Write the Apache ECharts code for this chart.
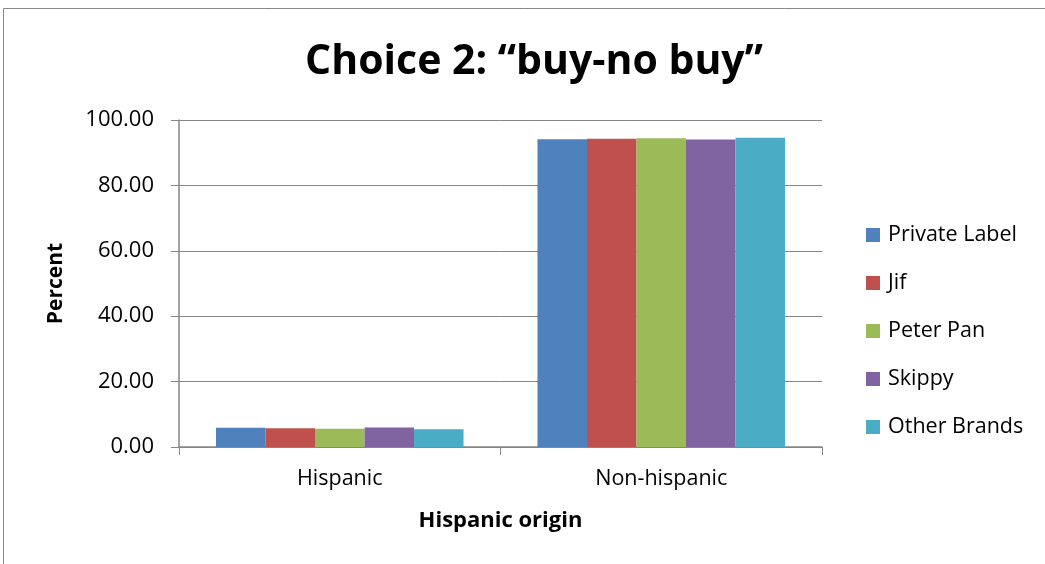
<!DOCTYPE html>
<html><head><meta charset="utf-8">
<script src="https://cdn.jsdelivr.net/npm/echarts@6/dist/echarts.min.js"></script>
<style>html,body{margin:0;padding:0;background:#fff}#c{width:1045px;height:564px}</style>
</head><body><div id="c"></div>
<script>
const categories = ["Hispanic", "Non-hispanic"];
const seriesNames = ["Private Label", "Jif", "Peter Pan", "Skippy", "Other Brands"];
const privateLabel = [5.9, 94.1];
const jif = [5.7, 94.3];
const peterPan = [5.6, 94.4];
const skippy = [6.0, 94.0];
const otherBrands = [5.4, 94.6];
const colors = ["#4F81BD", "#C0504D", "#9BBB59", "#8064A2", "#4BACC6"];
const values = [privateLabel, jif, peterPan, skippy, otherBrands];
const font = "'Open Sans', 'Noto Sans', sans-serif";

const chart = echarts.init(document.getElementById('c'), null, {renderer: 'canvas'});
chart.setOption({
  animation: false,
  textStyle: {fontFamily: font},
  title: {
    text: "Choice 2: \u201cbuy-no buy\u201d",
    left: 529, top: 37, textAlign: 'center',
    textStyle: {fontSize: 41, fontWeight: 'bold', color: '#000', fontFamily: font}
  },
  graphic: [{
    type: 'rect', shape: {x: 3.5, y: 8.5, width: 1100, height: 600},
    style: {fill: 'none', stroke: '#888', lineWidth: 1}, silent: true, z: -1
  }],
  legend: {
    orient: 'vertical', left: 861, top: 219, itemGap: 26,
    itemWidth: 14, itemHeight: 14, icon: 'rect',
    textStyle: {fontSize: 21.5, lineHeight: 22, color: '#000', fontFamily: font, padding: [0,0,0,3]},
    data: seriesNames
  },
  grid: {left: 179, top: 120, right: 223, bottom: 117},
  xAxis: {
    type: 'category', data: categories,
    name: 'Hispanic origin', nameLocation: 'middle', nameGap: 63,
    nameTextStyle: {fontSize: 22, fontWeight: 'bold', color: '#000'},
    axisLine: {lineStyle: {color: '#868686', width: 1.5}},
    axisTick: {show: true, length: 8, lineStyle: {color: '#868686'}},
    axisLabel: {fontSize: 21.5, color: '#000', margin: 21}
  },
  yAxis: {
    type: 'value', min: 0, max: 100, interval: 20,
    name: 'Percent', nameLocation: 'middle', nameGap: 112,
    nameTextStyle: {fontSize: 21, fontWeight: 'bold', color: '#000'},
    axisLine: {show: true, lineStyle: {color: '#868686', width: 1.5}},
    axisTick: {show: true, length: 8, lineStyle: {color: '#868686'}},
    splitLine: {lineStyle: {color: '#868686', width: 1}},
    axisLabel: {fontSize: 22, color: '#000', margin: 25, formatter: v => v.toFixed(2)}
  },
  series: seriesNames.map((n, i) => ({
    name: n, type: 'bar', data: values[i],
    barGap: '0%', barCategoryGap: '23%',
    itemStyle: {color: colors[i]}
  }))
});
</script></body></html>
